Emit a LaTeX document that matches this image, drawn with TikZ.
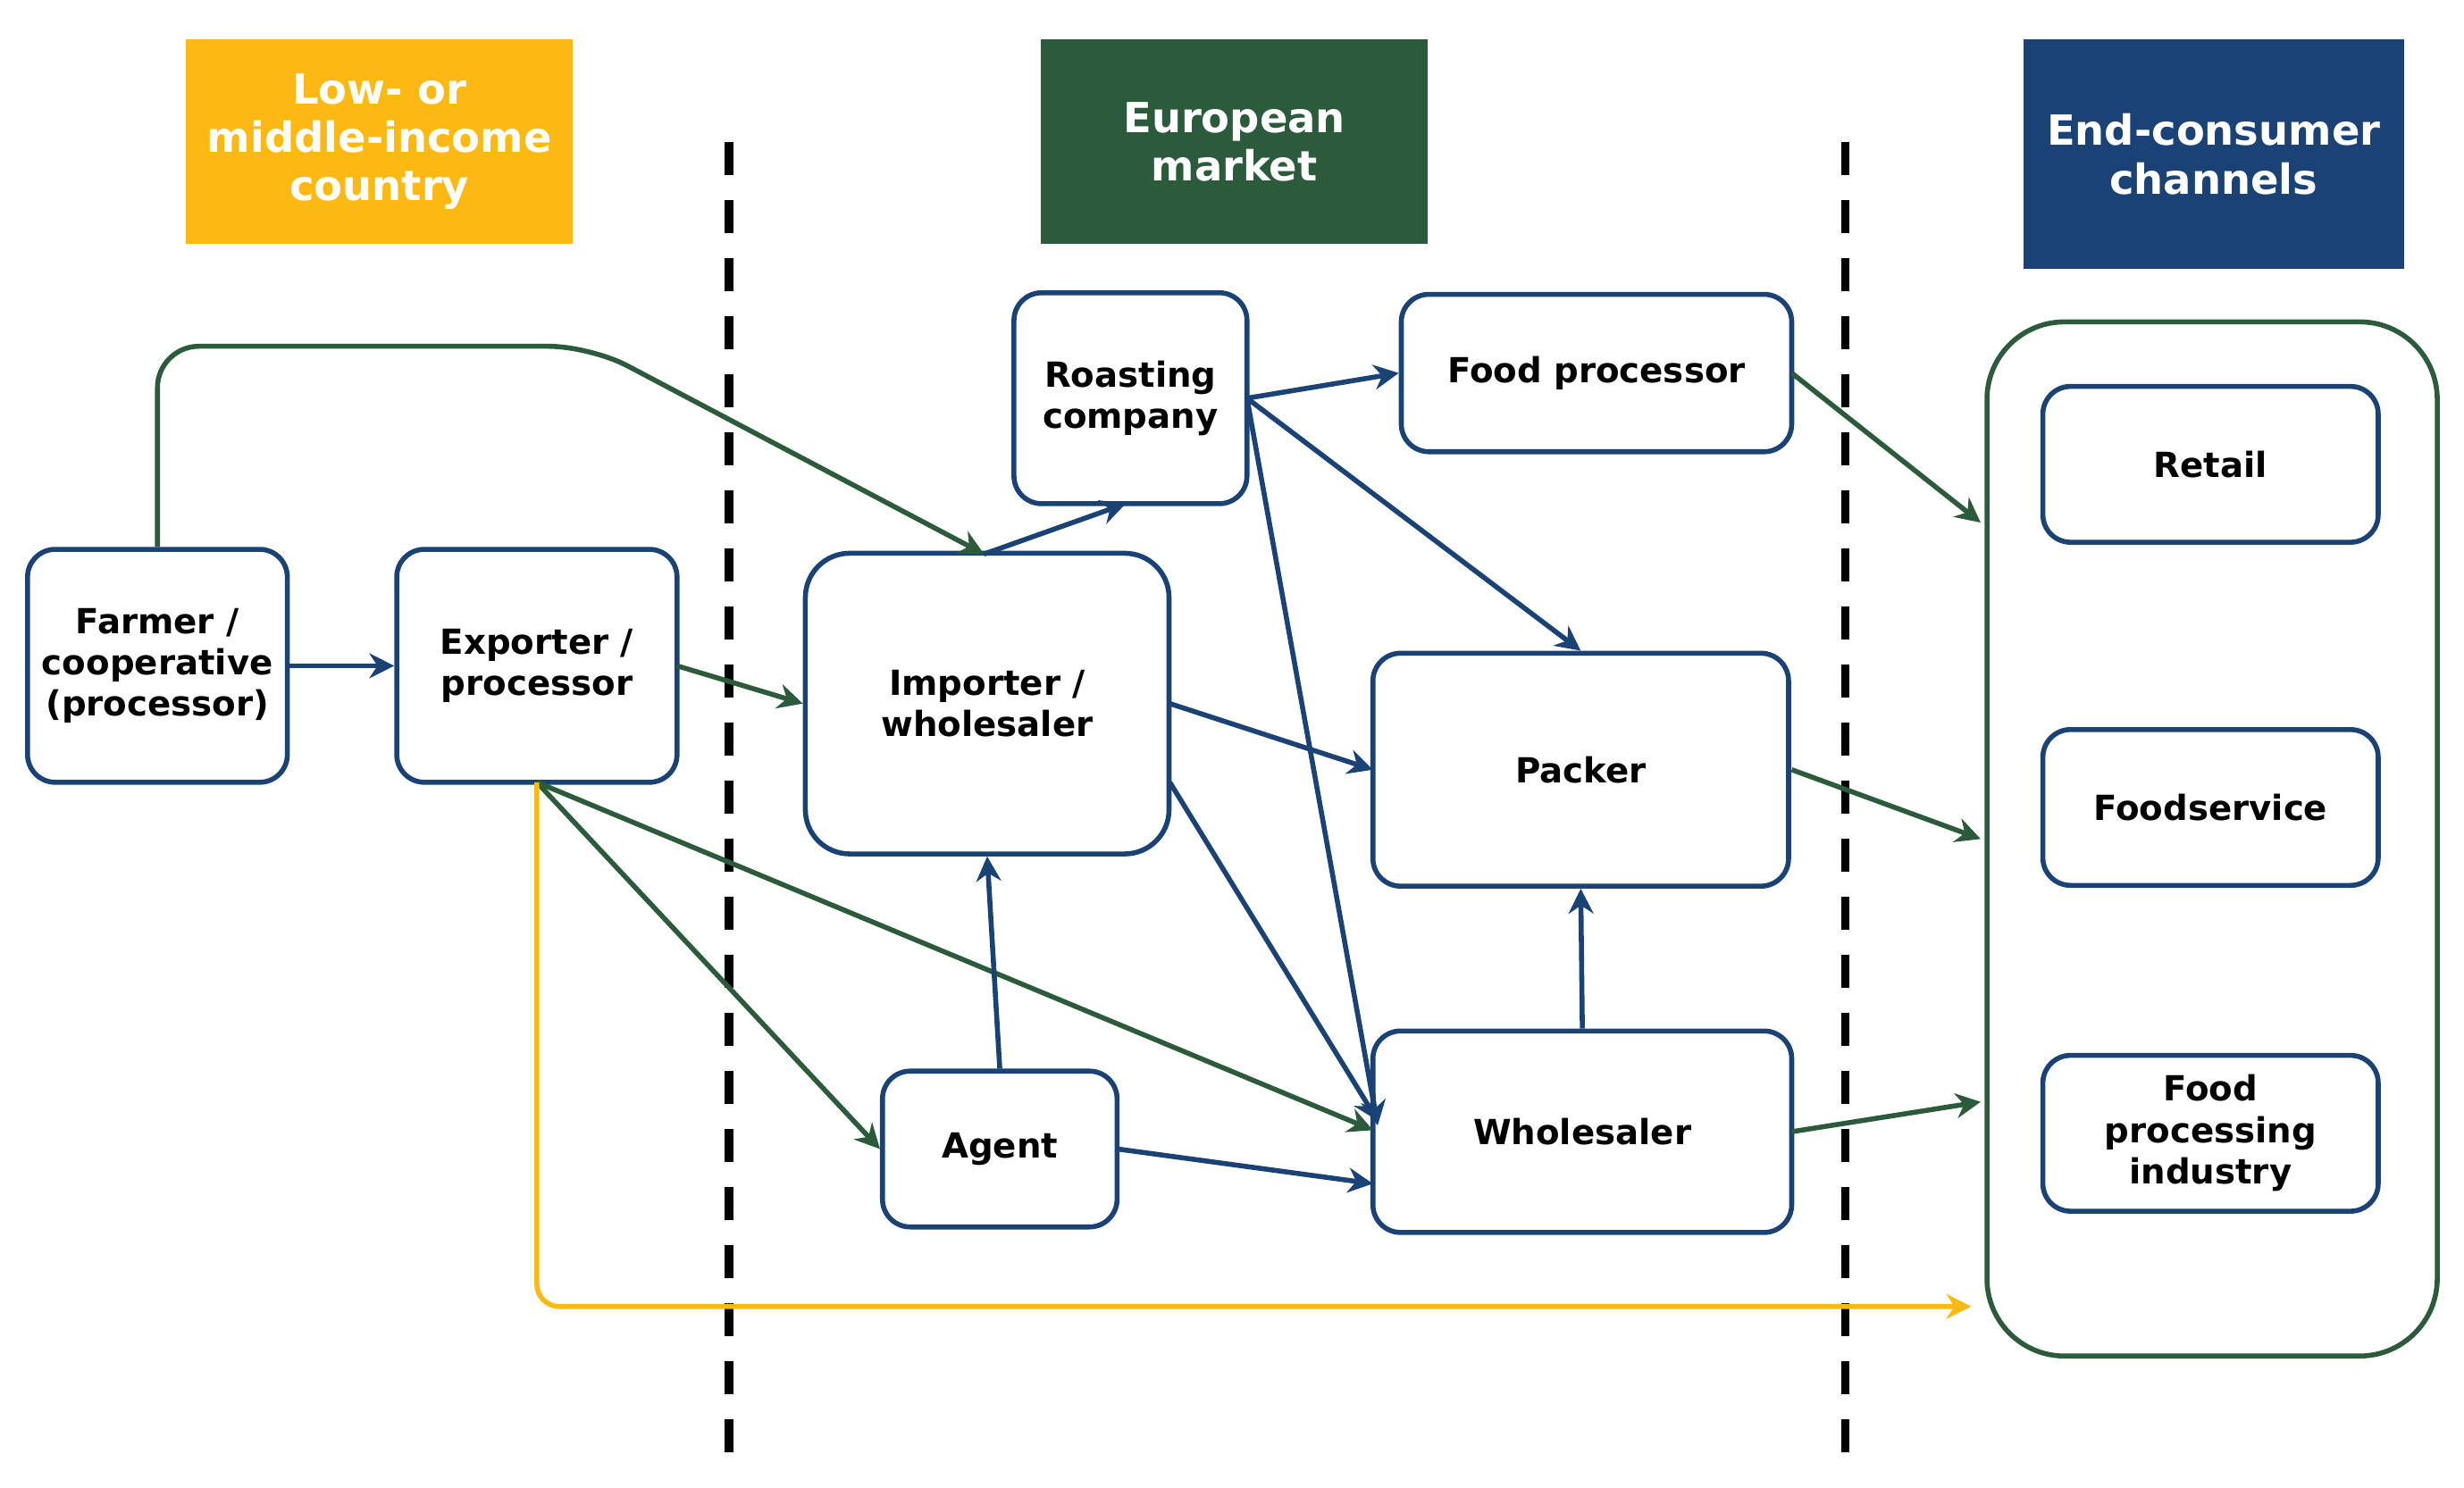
\documentclass[tikz,border=0pt]{standalone}
\usepackage{fontspec}
\setmainfont{DejaVu Sans}
\usetikzlibrary{arrows.meta, positioning}
\definecolor{cblue}{HTML}{1A4275}
\definecolor{cgreen}{HTML}{2B5B3B}
\definecolor{cyellow}{HTML}{FDB913}
\tikzset{
  box/.style={draw=cblue, line width=1.8pt, rounded corners=10pt, align=center, font=\bfseries\fontsize{12.5}{15}\selectfont},
  head/.style={inner sep=0pt, align=center, text=white, font=\bfseries\fontsize{15}{17.5}\selectfont},
  barr/.style={draw=cblue, line width=1.8pt, -{Stealth[length=9pt,width=9pt]}},
  garr/.style={draw=cgreen, line width=1.8pt, -{Stealth[length=9pt,width=9pt]}},
}
\begin{document}
\begin{tikzpicture}[x=0.02cm, y=-0.02cm]
\useasboundingbox (0,0) rectangle (1565,945);
% headers
\node[head, fill=cyellow, minimum width=246*0.02cm, minimum height=130*0.02cm] (h1) at (241,90) {Low- or\\middle-income\\country};
\node[head, fill=cgreen, minimum width=246*0.02cm, minimum height=130*0.02cm] (h2) at (784,90) {European\\market};
\node[head, fill=cblue, minimum width=242*0.02cm, minimum height=146*0.02cm] (h3) at (1406,98) {End-consumer\\channels};
% borders
\draw[line width=3pt, dash pattern=on 12pt off 9pt] (463,90) -- (463,925);
\draw[line width=3pt, dash pattern=on 12pt off 9pt] (1172,90) -- (1172,925);
% nodes
\node[box, minimum width=165*0.02cm, minimum height=148*0.02cm] (farmer) at (100,423) {Farmer /\\cooperative\\(processor)};
\node[box, minimum width=178*0.02cm, minimum height=148*0.02cm] (exporter) at (341,423) {Exporter /\\processor};
\node[box, minimum width=148*0.02cm, minimum height=134*0.02cm] (roaster) at (718,253) {Roasting\\company};
\node[box, minimum width=248*0.02cm, minimum height=100*0.02cm] (foodproc) at (1014,237) {Food processor};
\node[box, minimum width=231*0.02cm, minimum height=191*0.02cm, rounded corners=16pt] (importer) at (627,447) {Importer /\\wholesaler};
\node[box, minimum width=264*0.02cm, minimum height=148*0.02cm] (packer) at (1004,489) {Packer};
\node[box, minimum width=149*0.02cm, minimum height=99*0.02cm] (agent) at (635,730) {Agent};
\node[box, minimum width=266*0.02cm, minimum height=128*0.02cm] (wholesaler) at (1005,719) {Wholesaler};
\node[draw=cgreen, line width=1.8pt, rounded corners=28pt, minimum width=286*0.02cm, minimum height=657*0.02cm] (channels) at (1405,533) {};
\node[box, minimum width=213*0.02cm, minimum height=99*0.02cm] (retail) at (1404,295) {Retail};
\node[box, minimum width=213*0.02cm, minimum height=99*0.02cm] (foodservice) at (1404,513) {Foodservice};
\node[box, minimum width=213*0.02cm, minimum height=99*0.02cm] (industry) at (1404,720) {Food\\processing\\industry};
\coordinate (imptop) at (625,352);
\coordinate (expbot) at (341,497);
\coordinate (yend) at (1252,830);
% arrows
\draw[barr] (farmer) -- (exporter);
\draw[garr, rounded corners=15pt] (farmer.north) -- (100,220) -- (375,220) -- (imptop);
\draw[garr] (430,423) -- (importer.west |- 0,447);
\draw[garr] (expbot) -- (agent.west);
\draw[garr] (expbot) -- (872,718);
\draw[draw=cyellow, line width=1.8pt, -{Stealth[length=9pt,width=9pt]}, rounded corners=8pt] (expbot) -- (341,830) -- (yend);
\draw[barr] (imptop) -- (715,320);
\draw[barr] (792,253) -- (foodproc.west |- 0,237);
\draw[barr] (792,253) -- (packer.north);
\draw[barr] (792,253) -- (875,715);
\draw[barr] (743,447) -- (872,489);
\draw[barr] (743,497) -- (875,712);
\draw[barr] (agent.north) -- (importer.south);
\draw[barr] (710,730) -- (872,752);
\draw[barr] (wholesaler.north) -- (packer.south);
\draw[garr] (1138,237) -- (1258,332);
\draw[garr] (1138,489) -- (1258,533);
\draw[garr] (1138,719) -- (1258,700);
\end{tikzpicture}
\end{document}
